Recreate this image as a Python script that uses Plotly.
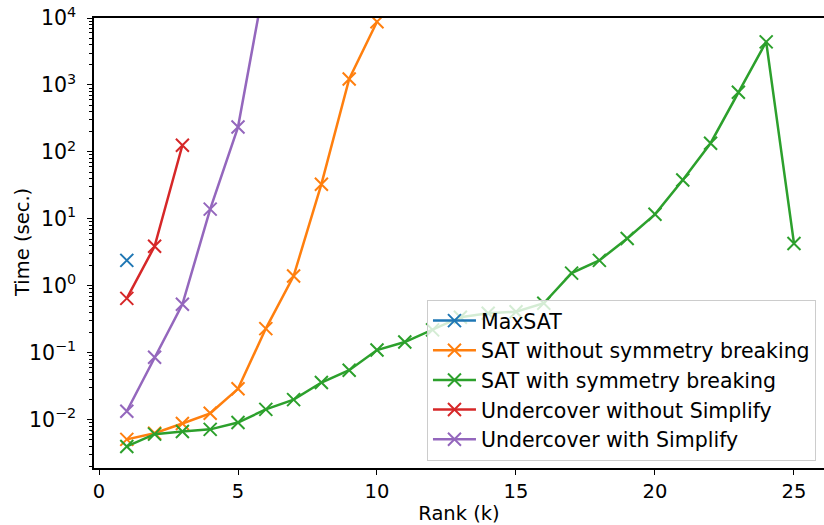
import plotly.graph_objects as go

# ---- data ----
maxsat_k = [1]
maxsat_t = [2.4]

sat_nosym_k = [1, 2, 3, 4, 5, 6, 7, 8, 9, 10]
sat_nosym_t = [0.0051, 0.0063, 0.0088, 0.0125, 0.029, 0.23, 1.4, 33, 1230, 8800]

sat_sym_k = list(range(1, 26))
sat_sym_t = [0.0040, 0.0061, 0.0067, 0.0072, 0.0091, 0.0143, 0.020, 0.036, 0.055,
             0.11, 0.145, 0.22, 0.34, 0.39, 0.41, 0.55, 1.55, 2.4, 5.1, 11.7,
             38, 135, 780, 4400, 4.3]

uc_nosimp_k = [1, 2, 3]
uc_nosimp_t = [0.65, 3.9, 126]

uc_simp_k = [1, 2, 3, 4, 5, 6]
uc_simp_t = [0.0134, 0.086, 0.53, 14, 235, 43000]

series_names = ["MaxSAT", "SAT without symmetry breaking", "SAT with symmetry breaking",
                "Undercover without Simplify", "Undercover with Simplify"]
series_colors = ["#1f77b4", "#ff7f0e", "#2ca02c", "#d62728", "#9467bd"]

x_ticks = [0, 5, 10, 15, 20, 25]
y_exps = [-2, -1, 0, 1, 2, 3, 4]

# ---- figure ----
FONT = "DejaVu Sans"
fig = go.Figure()
data = [(maxsat_k, maxsat_t), (sat_nosym_k, sat_nosym_t), (sat_sym_k, sat_sym_t),
        (uc_nosimp_k, uc_nosimp_t), (uc_simp_k, uc_simp_t)]
for (xs, ys), name, col in zip(data, series_names, series_colors):
    fig.add_trace(go.Scatter(
        x=xs, y=ys, name=name, mode="lines+markers",
        line=dict(color=col, width=2.5),
        marker=dict(symbol="x-thin", size=13, color=col,
                    line=dict(color=col, width=2)),
    ))

y_tickvals = [10 ** e for e in y_exps]
y_ticktext = ["10<sup>%s</sup>" % (str(e) if e >= 0 else "\u2212" + str(-e)) for e in y_exps]
minor_vals = [m * 10 ** e for e in range(-3, 4) for m in range(2, 10)]

fig.update_layout(
    width=824, height=525,
    margin=dict(l=94, r=0, t=18, b=57),
    paper_bgcolor="white", plot_bgcolor="white",
    font=dict(family=FONT, size=19.5, color="black"),
    showlegend=True,
    legend=dict(
        x=0.989, y=0.016, xanchor="right", yanchor="bottom",
        bgcolor="rgba(255,255,255,0.8)", bordercolor="#cccccc", borderwidth=1,
        font=dict(family=FONT, size=20.5, color="black"),
        itemwidth=43, tracegroupgap=0,
    ),
    xaxis=dict(
        range=[-0.18, 26.08],
        tickmode="array", tickvals=x_ticks, ticktext=[str(v) for v in x_ticks],
        ticks="outside", ticklen=5, tickwidth=1.2, tickcolor="black",
        showline=True, linecolor="black", linewidth=1.5, mirror=True,
        showgrid=False, zeroline=False,
        title=dict(text="Rank (k)", standoff=7, font=dict(size=19.5)),
        tickfont=dict(size=19.5),
    ),
    yaxis=dict(
        type="log", range=[-2.72, 4],
        tickmode="array", tickvals=y_tickvals, ticktext=y_ticktext,
        ticks="outside", ticklen=5, tickwidth=1.2, tickcolor="black",
        ticklabelstandoff=7,
        minor=dict(tickmode="array", tickvals=minor_vals, ticks="outside",
                   ticklen=3, tickwidth=1, tickcolor="black", showgrid=False),
        showline=True, linecolor="black", linewidth=1.5, mirror=False,
        showgrid=False, zeroline=False,
        tickfont=dict(size=20.5),
    ),
    annotations=[dict(
        text="Time (sec.)", textangle=-90, xref="paper", yref="paper",
        x=-0.0986, y=0.5, xanchor="center", yanchor="middle", showarrow=False,
        font=dict(family=FONT, size=19.5, color="black"),
    )],
)

fig.write_html("out.html")
